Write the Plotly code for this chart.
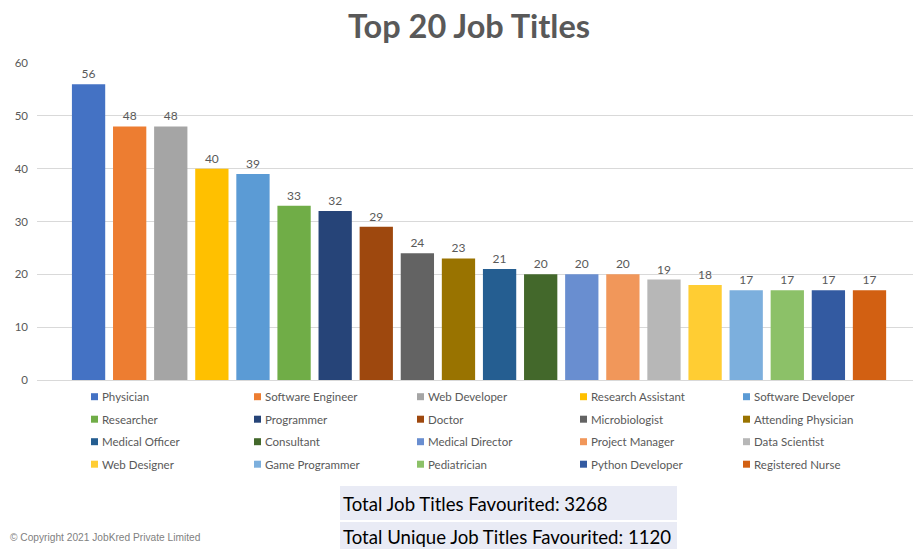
import plotly.graph_objects as go

# Job titles ranked by number of times favourited
job_titles = [
    "Physician", "Software Engineer", "Web Developer", "Research Assistant", "Software Developer",
    "Researcher", "Programmer", "Doctor", "Microbiologist", "Attending Physician",
    "Medical Officer", "Consultant", "Medical Director", "Project Manager", "Data Scientist",
    "Web Designer", "Game Programmer", "Pediatrician", "Python Developer", "Registered Nurse",
]
favourites = [56, 48, 48, 40, 39, 33, 32, 29, 24, 23, 21, 20, 20, 20, 19, 18, 17, 17, 17, 17]
bar_colors = [
    "#4472C4", "#ED7D31", "#A5A5A5", "#FFC000", "#5B9BD5",
    "#70AD47", "#264478", "#9E480E", "#636363", "#997300",
    "#255E91", "#43682B", "#698ED0", "#F1975A", "#B7B7B7",
    "#FFCD33", "#7CAFDD", "#8CC168", "#335AA1", "#D26012",
]
y_ticks = [0, 10, 20, 30, 40, 50, 60]
total_favourited = 3268
total_unique = 1120

W, H = 913, 549
M_L, M_R, M_T, M_B = 37, 0, 63, 169
PW, PH = W - M_L - M_R, H - M_T - M_B


def px_x(px):
    return (px - M_L) / PW


def px_y(py):
    return (H - M_B - py) / PH


TEXT = "#595959"
fig = go.Figure()

# One series per title, clustered in a single category
for name, val, col in zip(job_titles, favourites, bar_colors):
    fig.add_trace(go.Bar(
        x=[0], y=[val], name=name,
        marker=dict(color=col, line=dict(width=0)),
        text=[str(val)], textposition="outside",
        textfont=dict(family="Lato", size=12, color=TEXT),
        cliponaxis=False, showlegend=False,
        hovertemplate=name + ": %{y}<extra></extra>",
    ))

shapes = []
annotations = []

# Legend: five columns, four rows
for i, (name, col) in enumerate(zip(job_titles, bar_colors)):
    r, c = divmod(i, 5)
    left = 91 + 163 * c
    cy = 396.7 + 22.5 * r
    shapes.append(dict(type="rect", xref="paper", yref="paper",
                       x0=px_x(left), x1=px_x(left + 7), y0=px_y(cy - 3.5), y1=px_y(cy + 3.5),
                       fillcolor=col, line=dict(width=0)))
    annotations.append(dict(text=name, xref="paper", yref="paper",
                            x=px_x(left + 9), y=px_y(cy), xanchor="left", yanchor="middle",
                            showarrow=False, font=dict(family="Lato", size=11.5, color=TEXT)))

# Summary boxes below the chart
boxes = [
    (486, 520, f"Total Job Titles Favourited: {total_favourited}"),
    (522, 549, f"Total Unique Job Titles Favourited: {total_unique}"),
]
for y0, y1, label in boxes:
    shapes.append(dict(type="rect", xref="paper", yref="paper",
                       x0=px_x(340), x1=px_x(677), y0=px_y(y1), y1=px_y(y0),
                       fillcolor="#E9EBF5", line=dict(width=0), layer="below"))
    annotations.append(dict(text=label, xref="paper", yref="paper",
                            x=px_x(341), y=px_y((y0 + y1) / 2 + 1), xanchor="left", yanchor="middle",
                            showarrow=False, font=dict(family="Lato", size=18.6, color="#000000")))

annotations.append(dict(text="© Copyright 2021 JobKred Private Limited", xref="paper", yref="paper",
                        x=px_x(8), y=px_y(537), xanchor="left", yanchor="middle", showarrow=False,
                        font=dict(family="Liberation Sans", size=10.2, color="#7F7F7F")))

fig.update_layout(
    width=W, height=H,
    margin=dict(l=M_L, r=M_R, t=M_T, b=M_B),
    paper_bgcolor="white", plot_bgcolor="white",
    barmode="group", bargap=0.0616, bargroupgap=0.19,
    title=dict(text="<b>Top 20 Job Titles</b>", x=469 / W, xanchor="center",
               y=1 - 27 / H, yanchor="middle",
               font=dict(family="Lato", size=32.5, color=TEXT)),
    xaxis=dict(type="linear", range=[-0.5046, 0.4954], showticklabels=False, showgrid=False,
               zeroline=False, showline=False, fixedrange=True),
    yaxis=dict(range=[0, 60], tickvals=y_ticks, showgrid=True, gridcolor="#D9D9D9", gridwidth=1,
               zeroline=True, zerolinecolor="#D9D9D9", zerolinewidth=1, showline=False,
               ticklabelstandoff=8,
               tickfont=dict(family="Lato", size=11.5, color=TEXT)),
    shapes=shapes, annotations=annotations,
    showlegend=False,
)

fig.write_html("out.html")
